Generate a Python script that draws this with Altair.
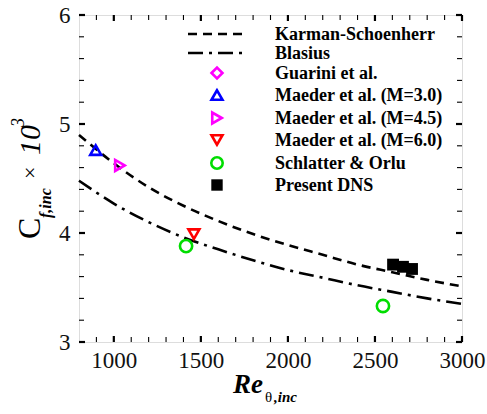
import altair as alt
import pandas as pd

# ---------------- data ----------------
curve_re = [800, 1000, 1200, 1400, 1600, 1800, 2000, 2200, 2400, 2600, 2800, 3000]
ks_cf = [4.90, 4.64, 4.42, 4.25, 4.11, 3.99, 3.89, 3.80, 3.71, 3.64, 3.57, 3.51]
bl_cf = [4.48, 4.27, 4.10, 3.96, 3.85, 3.75, 3.66, 3.59, 3.52, 3.46, 3.40, 3.35]

m30_re = [896]
m30_cf = [4.76]
m45_re = [1035]
m45_cf = [4.62]
m60_re = [1460]
m60_cf = [3.99]
so_re = [1415, 2546]
so_cf = [3.88, 3.33]
dns_re = [2604, 2661, 2713]
dns_cf = [3.71, 3.69, 3.67]

x_major = [1000, 1500, 2000, 2500, 3000]
x_minor = [900, 1100, 1200, 1300, 1400, 1600, 1700, 1800, 1900, 2100, 2200, 2300, 2400,
           2600, 2700, 2800, 2900]
y_major = [3, 4, 5, 6]
y_minor = [3.2, 3.4, 3.6, 3.8, 4.2, 4.4, 4.6, 4.8, 5.2, 5.4, 5.6, 5.8]

legend_labels = ["Karman-Schoenherr", "Blasius", "Guarini et al.", "Maeder et al. (M=3.0)",
                 "Maeder et al. (M=4.5)", "Maeder et al. (M=6.0)", "Schlatter & Orlu", "Present DNS"]

# ---------------- layout ----------------
W, H = 383, 327
FONT = "Liberation Serif"
MAG, BLUE, RED, GREEN = "#ff00ff", "#0000ff", "#ff0000", "#00dd00"

xs = alt.Scale(domain=[800, 3000], nice=False, zero=False)
ys = alt.Scale(domain=[3, 6], nice=False, zero=False)
x_axis = alt.Axis(values=x_major, ticks=False, domain=False, grid=False,
                  labelFont=FONT, labelFontSize=23, labelColor="#111",
                  labelPadding=7, labelFlush=False, format="d", title=None)
y_axis = alt.Axis(values=y_major, ticks=False, domain=False, grid=False,
                  labelFont=FONT, labelFontSize=23, labelColor="#111",
                  labelPadding=9, labelFlush=False, format="d", title=None)


def X(f):
    return alt.X(f, scale=xs, axis=x_axis, title=None)


def Y(f):
    return alt.Y(f, scale=ys, axis=y_axis, title=None)


curves = pd.DataFrame({"re": curve_re, "ks": ks_cf, "bl": bl_cf})

ks_line = alt.Chart(curves).mark_line(color="black", strokeWidth=2.6, strokeDash=[9, 6],
                                      interpolate="monotone").encode(x=X("re:Q"), y=Y("ks:Q"))
bl_line = alt.Chart(curves).mark_line(color="black", strokeWidth=2.6, strokeDash=[15, 6, 3, 6],
                                      interpolate="monotone").encode(x=X("re:Q"), y=Y("bl:Q"))


def pts(re, cf, shape, color, size=120):
    df = pd.DataFrame({"re": re, "cf": cf})
    return alt.Chart(df).mark_point(shape=shape, color=color, filled=False, strokeWidth=2.6,
                                    size=size, opacity=1).encode(x=X("re:Q"), y=Y("cf:Q"))


p30 = pts(m30_re, m30_cf, "triangle-up", BLUE)
p45 = pts(m45_re, m45_cf, "triangle-right", MAG)
p60 = pts(m60_re, m60_cf, "triangle-down", RED)
pso = pts(so_re, so_cf, "circle", GREEN, 150)
pdns = alt.Chart(pd.DataFrame({"re": dns_re, "cf": dns_cf})).mark_point(
    shape="square", color="black", filled=True, size=140, opacity=1).encode(
    x=X("re:Q"), y=Y("cf:Q"))


# ---------------- inward ticks ----------------
def xticks(vals, y0, y1, w):
    return alt.Chart(pd.DataFrame({"v": vals})).mark_rule(color="black", strokeWidth=w).encode(
        x=X("v:Q"), y=alt.value(y0), y2=alt.value(y1))


def yticks(vals, x0, x1, w):
    return alt.Chart(pd.DataFrame({"v": vals})).mark_rule(color="black", strokeWidth=w).encode(
        y=Y("v:Q"), x=alt.value(x0), x2=alt.value(x1))


ticks = [
    xticks(x_major, H, H - 6, 2.2), xticks(x_minor, H, H - 5, 1.1),
    xticks(x_major, 0, 6, 2.2), xticks(x_minor, 0, 5, 1.1),
    yticks(y_major, 0, 6, 2.2), yticks(y_minor, 0, 5, 1.1),
    yticks(y_major, W, W - 6, 2.2), yticks(y_minor, W, W - 5, 1.1),
]

# ---------------- legend ----------------
one = pd.DataFrame({"a": [0]})
leg_y = [19, 38, 58, 80, 103, 125, 148, 170]
sym_x, txt_x = 138, 196
legend = [
    alt.Chart(one).mark_rule(color="black", strokeWidth=2.6, strokeDash=[9, 6]).encode(
        x=alt.value(109), x2=alt.value(168), y=alt.value(leg_y[0])),
    alt.Chart(one).mark_rule(color="black", strokeWidth=2.6, strokeDash=[15, 6, 3, 6]).encode(
        x=alt.value(109), x2=alt.value(168), y=alt.value(leg_y[1])),
]
sym_specs = [("diamond", MAG, False, 120), ("triangle-up", BLUE, False, 120),
             ("triangle-right", MAG, False, 120), ("triangle-down", RED, False, 120),
             ("circle", GREEN, False, 130), ("square", "black", True, 130)]
for i, (shp, col, fil, sz) in enumerate(sym_specs):
    legend.append(alt.Chart(one).mark_point(shape=shp, color=col, filled=fil, size=sz,
                                            strokeWidth=2.6, opacity=1).encode(
        x=alt.value(sym_x), y=alt.value(leg_y[i + 2])))
for i, lab in enumerate(legend_labels):
    legend.append(alt.Chart(one).mark_text(align="left", baseline="middle", font=FONT,
                                           fontWeight="bold", fontSize=18, color="black").encode(
        x=alt.value(txt_x), y=alt.value(leg_y[i] + 1), text=alt.value(lab)))


# ---------------- axis titles ----------------
def txt(s, x, y, size, style="normal", weight="normal", angle=0):
    return alt.Chart(one).mark_text(align="left", baseline="alphabetic", font=FONT,
                                    fontSize=size, fontStyle=style, fontWeight=weight,
                                    angle=angle, color="black").encode(
        x=alt.value(x), y=alt.value(y), text=alt.value(s))


titles = [
    txt("Re", 154, 378, 27, "italic", "bold"),
    txt("θ", 186, 387, 15),
    txt(",inc", 195, 387, 15, "italic", "bold"),
    txt("C", -39, 224, 32, angle=270),
    txt("f,inc", -28, 203, 16, "italic", "bold", angle=270),
    txt("×", -42, 164, 22, angle=270),
    txt("10", -39, 140, 30, "italic", angle=270),
    txt("3", -55, 112, 18, "italic", angle=270),
]

chart = alt.layer(ks_line, bl_line, *ticks, p30, p45, p60, pso, pdns, *legend, *titles).properties(
    width=W, height=H,
    autosize=alt.AutoSizeParams(type="none"),
    padding={"left": 79, "top": 15, "right": 25, "bottom": 72},
).configure_view(stroke="black", strokeWidth=2.6).configure(background="white")

chart.save("out.html", embed_options={"renderer": "svg", "actions": False})
